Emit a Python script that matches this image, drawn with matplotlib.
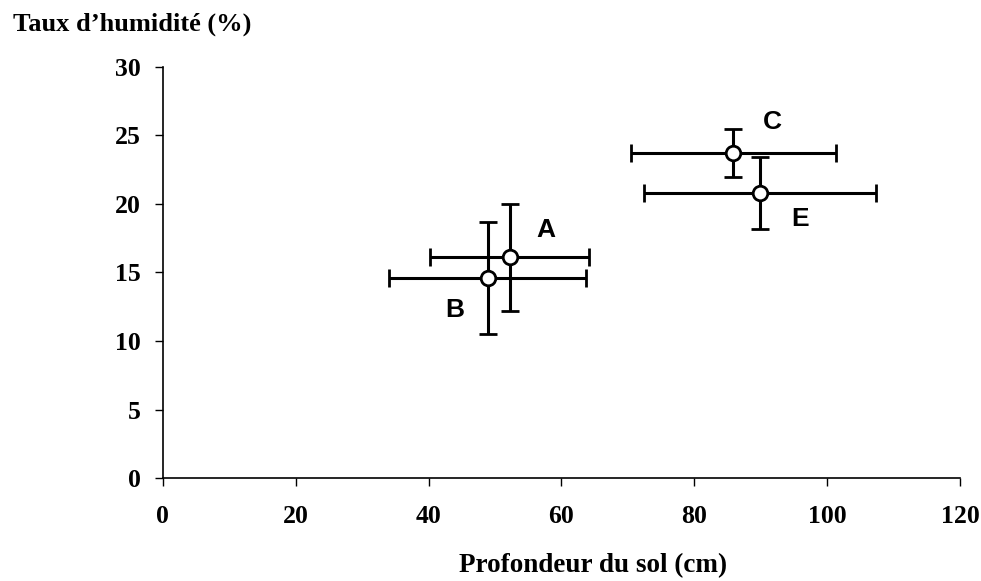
import matplotlib
matplotlib.use("Agg")
import matplotlib.pyplot as plt

# soil depth (cm) vs moisture (%) per site, with standard deviations
sites = ["A", "B", "C", "E"]
depth = [52.2, 48.9, 85.9, 89.9]
depth_sd = [11.9, 14.8, 15.4, 17.5]
moisture = [16.1, 14.6, 23.7, 20.8]
moisture_sd = [3.9, 4.05, 1.77, 2.6]
label_pos = [(57.6, 18.1), (44.0, 12.3), (91.7, 26.0), (96.0, 18.9)]

x_ticks = [0, 20, 40, 60, 80, 100, 120]
y_ticks = [0, 5, 10, 15, 20, 25, 30]

serif = "Liberation Serif"

fig = plt.figure(figsize=(9.81, 5.81), dpi=100)
ax = fig.add_axes([0.1659, 0.1768, 0.8127, 0.7084])

ax.errorbar(depth, moisture, xerr=depth_sd, yerr=moisture_sd,
            fmt="o", color="black", ecolor="black", elinewidth=2.2,
            capsize=6.5, capthick=2.2, markersize=10.5, markeredgewidth=2,
            markerfacecolor="white", markeredgecolor="black", zorder=3)

for name, (lx, ly) in zip(sites, label_pos):
    ax.text(lx, ly, name, ha="center", va="center", fontsize=19,
            fontweight="bold", family="Liberation Sans")

ax.set_xlim(0, 120)
ax.set_ylim(0, 30)
ax.set_xticks(x_ticks)
ax.set_yticks(y_ticks)
ax.spines["top"].set_visible(False)
ax.spines["right"].set_visible(False)
for s in ("left", "bottom"):
    ax.spines[s].set_linewidth(1.2)
ax.tick_params(direction="out", length=5.5, width=1)
ax.tick_params(axis="x", pad=14)
ax.tick_params(axis="y", pad=10)
for lab in ax.get_xticklabels() + ax.get_yticklabels():
    lab.set_family(serif)
    lab.set_fontweight("bold")
    lab.set_fontsize(18.5)

fig.text(0.013, 0.958, "Taux d\u2019humidit\u00e9 (%)", ha="left", va="center",
         fontsize=19, fontweight="bold", family=serif)
fig.text(0.605, 0.026, "Profondeur du sol (cm)", ha="center", va="center",
         fontsize=19.5, fontweight="bold", family=serif)

fig.savefig("out.png", dpi=100)
